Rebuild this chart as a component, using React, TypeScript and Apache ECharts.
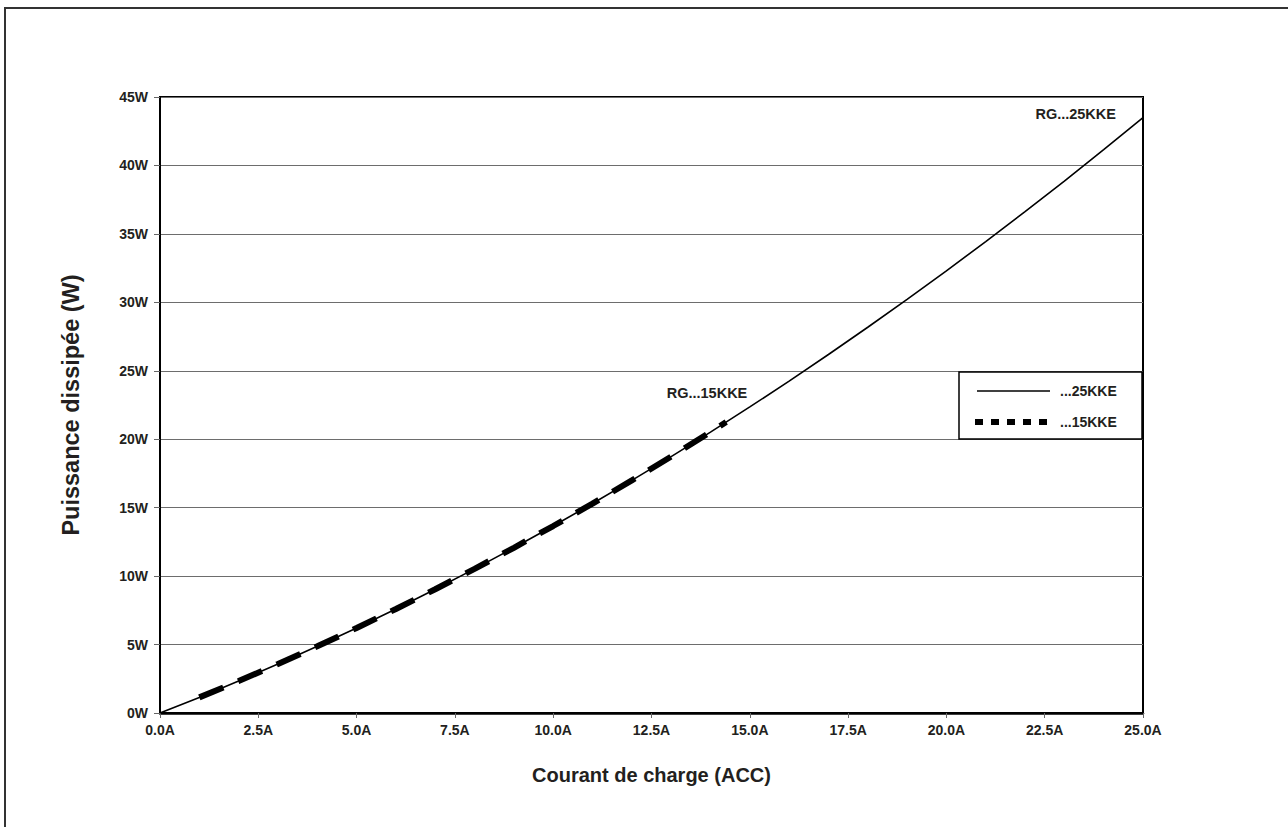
import React, { useEffect, useRef } from "react";
import * as echarts from "echarts";

// Courant de charge (A)
const currents25 = [0, 1, 2, 3, 4, 5, 6, 7, 8, 9, 10, 11, 12, 13, 14, 15, 16, 17, 18, 19, 20, 21, 22, 23, 24, 25];
// Puissance dissipée (W) – RG...25KKE
const power25 = [0, 1.14, 2.33, 3.58, 4.87, 6.21, 7.6, 9.04, 10.53, 12.07, 13.66, 15.3, 16.99, 18.73, 20.52, 22.36, 24.24, 26.19, 28.18, 30.21, 32.3, 34.44, 36.62, 38.86, 41.15, 43.49];
// RG...15KKE
const currents15 = [1, 2, 3, 4, 5, 6, 7, 8, 9, 10, 11, 12, 13, 14, 14.4];
const power15 = [1.14, 2.33, 3.58, 4.87, 6.21, 7.6, 9.04, 10.53, 12.07, 13.66, 15.3, 16.99, 18.73, 20.52, 21.26];

const seriesNames = ["...25KKE", "...15KKE"];
const annotations = ["RG...25KKE", "RG...15KKE"];
const xTitle = "Courant de charge (ACC)";
const yTitle = "Puissance dissipée (W)";

const FONT = "'Liberation Sans', Arial, Helvetica, sans-serif";
const TXT = "#231f20";

export default function App() {
  const ref = useRef<HTMLDivElement>(null);
  useEffect(() => {
    if (!ref.current) return;
    const chart = echarts.init(ref.current, null, { renderer: "svg" });
    const d25 = currents25.map((x, i) => [x, power25[i]]);
    const d15 = currents15.map((x, i) => [x, power15[i]]);
    chart.setOption({
      animation: false,
      backgroundColor: "#fff",
      textStyle: { fontFamily: FONT },
      grid: {
        left: 160,
        right: 145,
        top: 97,
        bottom: 114,
        show: true,
        borderColor: "#000",
        borderWidth: 2,
      },
      xAxis: {
        type: "value",
        min: 0,
        max: 25,
        interval: 2.5,
        name: xTitle,
        nameLocation: "middle",
        nameGap: 52,
        nameTextStyle: { fontFamily: FONT, fontSize: 20, fontWeight: "bold", color: TXT },
        axisLine: { show: true, lineStyle: { color: "#000", width: 2.5 } },
        axisTick: { show: true, length: 5, lineStyle: { color: "#666", width: 1 } },
        axisLabel: {
          margin: 10,
          fontFamily: FONT,
          fontSize: 14,
          fontWeight: "bold",
          color: TXT,
          formatter: (v: number) => v.toFixed(1) + "A",
        },
        splitLine: { show: false },
      },
      yAxis: {
        type: "value",
        min: 0,
        max: 45,
        interval: 5,
        name: yTitle,
        nameLocation: "middle",
        nameGap: 77,
        nameRotate: 90,
        nameTextStyle: { fontFamily: FONT, fontSize: 23.5, fontWeight: "bold", color: TXT },
        axisLine: { show: true, lineStyle: { color: "#000", width: 2 } },
        axisTick: { show: true, length: 6, lineStyle: { color: "#666", width: 1 } },
        axisLabel: {
          margin: 12,
          fontFamily: FONT,
          fontSize: 14,
          fontWeight: "bold",
          color: TXT,
          formatter: (v: number) => v + "W",
        },
        splitLine: { show: true, lineStyle: { color: "#6d6d6d", width: 1 } },
      },
      series: [
        {
          name: seriesNames[0],
          type: "line",
          data: d25,
          smooth: false,
          showSymbol: false,
          lineStyle: { color: "#000", width: 1.6 },
          z: 3,
        },
        {
          name: seriesNames[1],
          type: "line",
          data: d15,
          smooth: false,
          showSymbol: false,
          lineStyle: { color: "#000", width: 6, type: [26, 16], cap: "butt" },
          z: 4,
        },
      ],
      graphic: [
        {
          type: "polyline",
          shape: { points: [[5, 827], [5, 8], [1288, 8]] },
          style: { stroke: "#333", lineWidth: 2, fill: null },
        },
        {
          type: "text",
          x: 1116,
          y: 114,
          style: { text: annotations[0], fontFamily: FONT, fontSize: 14.5, fontWeight: "bold", fill: TXT, align: "right", verticalAlign: "middle" },
        },
        {
          type: "text",
          x: 707,
          y: 393,
          style: { text: annotations[1], fontFamily: FONT, fontSize: 14.5, fontWeight: "bold", fill: TXT, align: "center", verticalAlign: "middle" },
        },
        {
          type: "rect",
          shape: { x: 959, y: 372, width: 183, height: 67 },
          style: { fill: "#fff", stroke: "#000", lineWidth: 1.5 },
          z: 10,
        },
        {
          type: "line",
          shape: { x1: 977, y1: 391, x2: 1050, y2: 391 },
          style: { stroke: "#000", lineWidth: 1.6 },
          z: 11,
        },
        {
          type: "line",
          shape: { x1: 975, y1: 422, x2: 1051, y2: 422 },
          style: { stroke: "#000", lineWidth: 6, lineDash: [8, 8] },
          z: 11,
        },
        {
          type: "text",
          x: 1060,
          y: 391,
          style: { text: seriesNames[0], fontFamily: FONT, fontSize: 14, fontWeight: "bold", fill: TXT, align: "left", verticalAlign: "middle" },
          z: 11,
        },
        {
          type: "text",
          x: 1060,
          y: 422,
          style: { text: seriesNames[1], fontFamily: FONT, fontSize: 14, fontWeight: "bold", fill: TXT, align: "left", verticalAlign: "middle" },
          z: 11,
        },
      ],
    });
    return () => chart.dispose();
  }, []);
  return (
    <div
      ref={ref}
      style={{ position: "fixed", left: 0, top: 0, width: 1288, height: 827, background: "#fff" }}
    />
  );
}
